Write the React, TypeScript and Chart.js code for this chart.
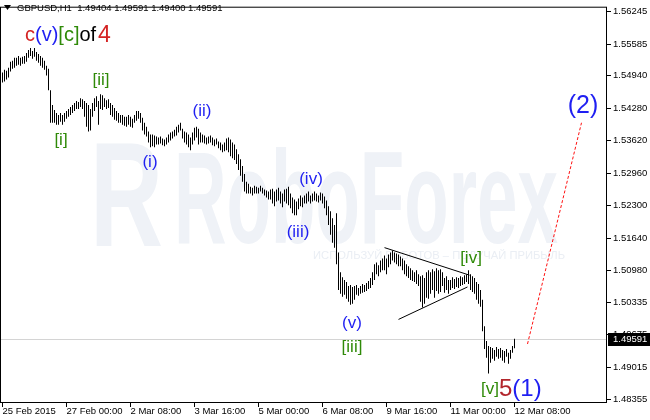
import React, { useEffect, useRef } from 'react';
import { Chart, registerables } from 'chart.js';

Chart.register(...registerables);

// ---------- data ----------
const symbolTitle = 'GBPUSD,H1';
const lastOHLC = [1.49404, 1.49591, 1.494, 1.49591];
const currentPrice = 1.49591;

// hourly bar index of each time label (bar 0 = 25 Feb 2015 16:00)
const timeTickIndex = [0, 32, 64, 96, 128, 160, 192, 224, 256];
const timeTickLabels = ['25 Feb 2015', '27 Feb 00:00', '2 Mar 08:00', '3 Mar 16:00', '5 Mar 00:00', '6 Mar 08:00', '9 Mar 16:00', '11 Mar 00:00', '12 Mar 08:00'];

const priceTicks = [1.56245, 1.55585, 1.5494, 1.5428, 1.5362, 1.5296, 1.523, 1.5164, 1.5098, 1.50335, 1.49675, 1.49015, 1.48355];

const barHigh = [
  1.55005, 1.55065, 1.55045, 1.55105, 1.55225, 1.55245, 1.55305, 1.55305, 1.55345, 1.55305,
  1.55325, 1.55345, 1.55405, 1.55465, 1.55505, 1.55445, 1.55505, 1.55425, 1.55385, 1.55345,
  1.55305, 1.55245, 1.55145, 1.55085, 1.54645, 1.54345, 1.54245, 1.54185, 1.54145, 1.54185,
  1.54145, 1.54185, 1.54225, 1.54265, 1.54305, 1.54345, 1.54385, 1.54425, 1.54405, 1.54485,
  1.54465, 1.54425, 1.54385, 1.54345, 1.54265, 1.54385, 1.54485, 1.54525, 1.54425, 1.54565,
  1.54545, 1.54485, 1.54445, 1.54465, 1.54385, 1.54345, 1.54285, 1.54225, 1.54185, 1.54145,
  1.54145, 1.54105, 1.54105, 1.54145, 1.54105, 1.54065, 1.54145, 1.54225, 1.54225, 1.54185,
  1.54085, 1.53985, 1.53905, 1.53805, 1.53745, 1.53745, 1.53725, 1.53705, 1.53685, 1.53705,
  1.53665, 1.53645, 1.53685, 1.53745, 1.53785, 1.53805, 1.53845, 1.53905, 1.53945, 1.53985,
  1.53865, 1.53805, 1.53785, 1.53745, 1.53685, 1.53785, 1.53885, 1.53905, 1.53865, 1.53785,
  1.53745, 1.53725, 1.53685, 1.53705, 1.53725, 1.53685, 1.53645, 1.53665, 1.53605, 1.53585,
  1.53545, 1.53585, 1.53665, 1.53685, 1.53645, 1.53585, 1.53545, 1.53445, 1.53345, 1.53245,
  1.53105, 1.52945, 1.52785, 1.52745, 1.52685, 1.52665, 1.52705, 1.52685, 1.52665, 1.52705,
  1.52665, 1.52625, 1.52605, 1.52585, 1.52625, 1.52645, 1.52585, 1.52625, 1.52665, 1.52585,
  1.52545, 1.52625, 1.52645, 1.52685, 1.52545, 1.52465, 1.52425, 1.52385, 1.52445, 1.52505,
  1.52465, 1.52505, 1.52545, 1.52585, 1.52505, 1.52545, 1.52585, 1.52545, 1.52505, 1.52565,
  1.52545, 1.52485, 1.52405, 1.52285, 1.52185, 1.52045, 1.51905, 1.52145, 1.51345, 1.50945,
  1.50845, 1.50785, 1.50745, 1.50665, 1.50685, 1.50645, 1.50665, 1.50685, 1.50625, 1.50665,
  1.50705, 1.50685, 1.50725, 1.50765, 1.50825, 1.50945, 1.51105, 1.51145, 1.51085, 1.51185,
  1.51225, 1.51285, 1.51225, 1.51305, 1.51345, 1.51385, 1.51345, 1.51325, 1.51305, 1.51265,
  1.51225, 1.51185, 1.51105, 1.51065, 1.51025, 1.50985, 1.50945, 1.50985, 1.50905, 1.50865,
  1.50885, 1.50825, 1.50945, 1.50985, 1.50945, 1.51005, 1.50965, 1.51025, 1.50985, 1.51005,
  1.50945, 1.50825, 1.50865, 1.50785, 1.50785, 1.50845, 1.50805, 1.50845, 1.50825, 1.50865,
  1.50845, 1.50885, 1.50905, 1.50985, 1.50905, 1.50865, 1.50825, 1.50745, 1.50705, 1.50585,
  1.50385, 1.49845, 1.49545, 1.49445, 1.49425, 1.49405, 1.49365, 1.49425, 1.49385, 1.49405,
  1.49365, 1.49345, 1.49385, 1.49305, 1.49365, 1.49445, 1.49591,
];

const barLow = [
  1.54805, 1.54825, 1.54865, 1.54905, 1.55025, 1.55085, 1.55105, 1.55145, 1.55165, 1.55145,
  1.55185, 1.55185, 1.55225, 1.55305, 1.55345, 1.55285, 1.55325, 1.55245, 1.55205, 1.55145,
  1.55105, 1.55065, 1.54945, 1.54645, 1.53985, 1.53985, 1.53985, 1.53945, 1.53945, 1.54005,
  1.53945, 1.54005, 1.54065, 1.54105, 1.54145, 1.54185, 1.54225, 1.54265, 1.54265, 1.54305,
  1.54265, 1.54105, 1.53905, 1.53805, 1.53825, 1.54105, 1.54225, 1.54305, 1.53945, 1.54265,
  1.54245, 1.54305, 1.54265, 1.54285, 1.54145, 1.54105, 1.54045, 1.54025, 1.53985, 1.53985,
  1.53945, 1.53925, 1.53905, 1.53945, 1.53905, 1.53885, 1.53985, 1.54025, 1.54065, 1.53985,
  1.53825, 1.53745, 1.53705, 1.53585, 1.53485, 1.53505, 1.53485, 1.53545, 1.53545, 1.53565,
  1.53525, 1.53505, 1.53545, 1.53585, 1.53625, 1.53665, 1.53705, 1.53725, 1.53785, 1.53825,
  1.53665, 1.53585, 1.53545, 1.53485, 1.53425, 1.53545, 1.53625, 1.53685, 1.53545, 1.53585,
  1.53585, 1.53565, 1.53545, 1.53565, 1.53585, 1.53525, 1.53505, 1.53545, 1.53465, 1.53425,
  1.53385, 1.53405, 1.53425, 1.53385, 1.53305, 1.53265, 1.53225, 1.53145, 1.53025, 1.52905,
  1.52785, 1.52585, 1.52545, 1.52545, 1.52545, 1.52505, 1.52545, 1.52545, 1.52545, 1.52585,
  1.52545, 1.52505, 1.52465, 1.52425, 1.52425, 1.52345, 1.52285, 1.52385, 1.52405, 1.52345,
  1.52265, 1.52385, 1.52345, 1.52305, 1.52245, 1.52145, 1.52105, 1.52105, 1.52225, 1.52285,
  1.52265, 1.52345, 1.52345, 1.52385, 1.52345, 1.52385, 1.52405, 1.52385, 1.52365, 1.52405,
  1.52345, 1.52245, 1.52105, 1.51905, 1.51705, 1.51545, 1.51445, 1.51105, 1.50585, 1.50505,
  1.50445, 1.50485, 1.50405, 1.50345, 1.50285, 1.50305, 1.50385, 1.50485, 1.50465, 1.50505,
  1.50525, 1.50545, 1.50565, 1.50605, 1.50625, 1.50685, 1.50785, 1.50905, 1.50865, 1.50945,
  1.50985, 1.50985, 1.50905, 1.51045, 1.51105, 1.51185, 1.51145, 1.51105, 1.51065, 1.51065,
  1.50985, 1.50905, 1.50865, 1.50825, 1.50785, 1.50765, 1.50745, 1.50705, 1.50665, 1.50345,
  1.50225, 1.50305, 1.50425, 1.50405, 1.50505, 1.50585, 1.50425, 1.50565, 1.50505, 1.50545,
  1.50665, 1.50525, 1.50585, 1.50505, 1.50585, 1.50625, 1.50605, 1.50645, 1.50625, 1.50665,
  1.50685, 1.50705, 1.50745, 1.50705, 1.50585, 1.50545, 1.50505, 1.50385, 1.50305, 1.50245,
  1.49745, 1.49385, 1.49205, 1.48885, 1.49105, 1.49185, 1.49145, 1.49225, 1.49185, 1.49205,
  1.49145, 1.49105, 1.49225, 1.49085, 1.49185, 1.49305, 1.494,
];

// drawn objects: [bar index, price]
const triangleUpper = [[191, 1.51445], [233.5, 1.50885]];
const triangleLower = [[198, 1.49985], [232.5, 1.50645]];
const projectionLine = [[262.5, 1.49485], [289.5, 1.53985]];

// ---------- styles / annotations ----------
const FONT = '"Liberation Sans", Arial, sans-serif';
const BLUE = '#1f1ff2';
const GREEN = '#2f8a08';
const RED = '#d42424';
const DARKRED = '#b2262c';
const BLACK = '#000000';

type Part = { t: string; c: string; s: number; gap?: number };
type WaveLabel = { parts: Part[]; i: number; p: number; align: 'center' | 'left' };

const waveLabels: WaveLabel[] = [
  { parts: [{ t: 'c', c: RED, s: 20 }, { t: '(v)', c: BLUE, s: 20 }, { t: '[c]', c: GREEN, s: 20 }, { t: 'of', c: BLACK, s: 20, gap: 2 }, { t: '4', c: RED, s: 23 }], i: 11.25, p: 1.55765, align: 'left' },
  { parts: [{ t: '[ii]', c: GREEN, s: 17 }], i: 49.25, p: 1.54845, align: 'center' },
  { parts: [{ t: '[i]', c: GREEN, s: 17 }], i: 29.25, p: 1.53625, align: 'center' },
  { parts: [{ t: '(ii)', c: BLUE, s: 17 }], i: 99.75, p: 1.54225, align: 'center' },
  { parts: [{ t: '(i)', c: BLUE, s: 17 }], i: 73.75, p: 1.53185, align: 'center' },
  { parts: [{ t: '(iv)', c: BLUE, s: 17 }], i: 154.25, p: 1.52825, align: 'center' },
  { parts: [{ t: '(iii)', c: BLUE, s: 17 }], i: 147.75, p: 1.51765, align: 'center' },
  { parts: [{ t: '(v)', c: BLUE, s: 17 }], i: 174.75, p: 1.49905, align: 'center' },
  { parts: [{ t: '[iii]', c: GREEN, s: 17 }], i: 174.75, p: 1.49425, align: 'center' },
  { parts: [{ t: '[iv]', c: GREEN, s: 17 }], i: 234.25, p: 1.51225, align: 'center' },
  { parts: [{ t: '[v]', c: GREEN, s: 17 }, { t: '5', c: DARKRED, s: 24 }, { t: '(1)', c: BLUE, s: 24 }], i: 239.25, p: 1.48565, align: 'left' },
  { parts: [{ t: '(2)', c: BLUE, s: 25 }], i: 290.25, p: 1.54325, align: 'center' },
];

const overlayPlugin = {
  id: 'mt4overlay',
  beforeDatasetsDraw(chart: any) {
    const { ctx, chartArea, scales } = chart;
    ctx.save();
    // watermark
    const fitText = (text: string, font: string, x0: number, x1: number, base: number, capH: number, color: string) => {
      ctx.font = font;
      const w = ctx.measureText(text).width;
      const m = ctx.measureText('H');
      const ch = m.actualBoundingBoxAscent || 70;
      ctx.save();
      ctx.translate(x0, base);
      ctx.scale((x1 - x0) / w, capH / ch);
      ctx.fillStyle = color;
      ctx.textBaseline = 'alphabetic';
      ctx.textAlign = 'left';
      ctx.fillText(text, 0, 0);
      ctx.restore();
    };
    fitText('R', `bold 100px ${FONT}`, 90, 163, 246, 104, '#eff2f7');
    fitText('RoboForex', `bold 100px ${FONT}`, 174, 558, 243, 92, '#eff2f7');
    fitText('ИСПОЛЬЗУЙ РОБОТОВ – ПОЛУЧАЙ ПРИБЫЛЬ', `12px ${FONT}`, 313, 565, 259, 8, '#eaeef4');
    // current price line
    const y = Math.round(scales.y.getPixelForValue(currentPrice)) + 0.5;
    ctx.strokeStyle = '#d4d4d4';
    ctx.lineWidth = 1;
    ctx.beginPath();
    ctx.moveTo(chartArea.left, y);
    ctx.lineTo(chartArea.right, y);
    ctx.stroke();
    ctx.restore();
  },
  afterDraw(chart: any) {
    const { ctx, chartArea, scales } = chart;
    ctx.save();
    // wave labels
    for (const lb of waveLabels) {
      const px = scales.x.getPixelForValue(lb.i);
      const py = scales.y.getPixelForValue(lb.p);
      ctx.textBaseline = 'middle';
      ctx.textAlign = 'left';
      let total = 0;
      for (const part of lb.parts) {
        ctx.font = `${part.s}px ${FONT}`;
        total += ctx.measureText(part.t).width + (part.gap || 0);
      }
      let x = lb.align === 'center' ? px - total / 2 : px;
      for (const part of lb.parts) {
        ctx.font = `${part.s}px ${FONT}`;
        ctx.fillStyle = part.c;
        ctx.fillText(part.t, x, py);
        x += ctx.measureText(part.t).width + (part.gap || 0);
      }
    }
    // title
    ctx.fillStyle = '#000';
    ctx.beginPath();
    ctx.moveTo(4, 5);
    ctx.lineTo(11, 5);
    ctx.lineTo(7.5, 10);
    ctx.closePath();
    ctx.fill();
    ctx.font = `9.5px ${FONT}`;
    ctx.textBaseline = 'middle';
    ctx.textAlign = 'left';
    ctx.fillText(`${symbolTitle}  ${lastOHLC.map((v) => v.toFixed(5)).join(' ')}`, 17, 8.5);
    // frame
    ctx.strokeStyle = '#000';
    ctx.lineWidth = 1;
    ctx.strokeRect(chartArea.left - 0.5, chartArea.top - 0.5, chartArea.right - chartArea.left, chartArea.bottom - chartArea.top);
    // current price box
    const y = scales.y.getPixelForValue(currentPrice);
    ctx.fillStyle = '#000';
    ctx.fillRect(chartArea.right + 1, Math.round(y) - 6, 42, 13);
    ctx.fillStyle = '#fff';
    ctx.font = `9.5px ${FONT}`;
    ctx.fillText(currentPrice.toFixed(5), chartArea.right + 6, Math.round(y) + 0.5);
    ctx.restore();
  },
};

export default function App() {
  const ref = useRef<HTMLCanvasElement>(null);
  useEffect(() => {
    const canvas = ref.current;
    if (!canvas) return;
    const toPts = (arr: number[][]) => arr.map(([x, y]) => ({ x, y }));
    const chart = new Chart(canvas, {
      type: 'bar',
      data: {
        datasets: [
          {
            type: 'bar',
            data: barHigh.map((h, i) => ({ x: i, y: [barLow[i], h] })) as any,
            backgroundColor: '#000000',
            borderWidth: 0,
            barThickness: 1,
            inflateAmount: 0,
            order: 3,
          } as any,
          { type: 'line', data: toPts(triangleUpper) as any, borderColor: '#000', borderWidth: 1, pointRadius: 0, order: 1 } as any,
          { type: 'line', data: toPts(triangleLower) as any, borderColor: '#000', borderWidth: 1, pointRadius: 0, order: 1 } as any,
          { type: 'line', data: toPts(projectionLine) as any, borderColor: '#ff1010', borderWidth: 1, borderDash: [3, 2], pointRadius: 0, order: 1 } as any,
        ],
      },
      options: {
        responsive: false,
        animation: false,
        events: [],
        layout: { padding: { left: 1, top: 1, right: 0, bottom: 0 } },
        plugins: { legend: { display: false }, tooltip: { enabled: false } },
        scales: {
          x: {
            type: 'linear',
            min: -0.75,
            max: 302.25,
            offset: false,
            border: { display: false },
            grid: { drawOnChartArea: false, drawTicks: true, tickLength: 4, color: '#000', offset: false },
            afterBuildTicks: (scale: any) => {
              scale.ticks = timeTickIndex.map((v) => ({ value: v }));
            },
            afterFit: (scale: any) => {
              scale.height = 17;
            },
            ticks: {
              autoSkip: false,
              maxRotation: 0,
              minRotation: 0,
              align: 'start',
              padding: -1,
              color: '#000',
              font: { family: FONT, size: 9.5 },
              callback: (_v: any, idx: number) => timeTickLabels[idx],
            },
          },
          y: {
            type: 'linear',
            position: 'right',
            min: 1.48285,
            max: 1.56325,
            border: { display: false },
            grid: { drawOnChartArea: false, drawTicks: true, tickLength: 4, color: '#000' },
            afterBuildTicks: (scale: any) => {
              scale.ticks = priceTicks.map((v) => ({ value: v }));
            },
            afterFit: (scale: any) => {
              scale.width = 43;
            },
            ticks: {
              autoSkip: false,
              padding: 2,
              color: '#000',
              font: { family: FONT, size: 9.5 },
              callback: (v: any) => Number(v).toFixed(5),
            },
          },
        },
      } as any,
      plugins: [overlayPlugin],
    });
    return () => chart.destroy();
  }, []);
  return (
    <div style={{ position: 'fixed', left: 0, top: 0, width: 650, height: 420, background: '#fff' }}>
      <canvas ref={ref} width={650} height={420} style={{ display: 'block' }} />
    </div>
  );
}
